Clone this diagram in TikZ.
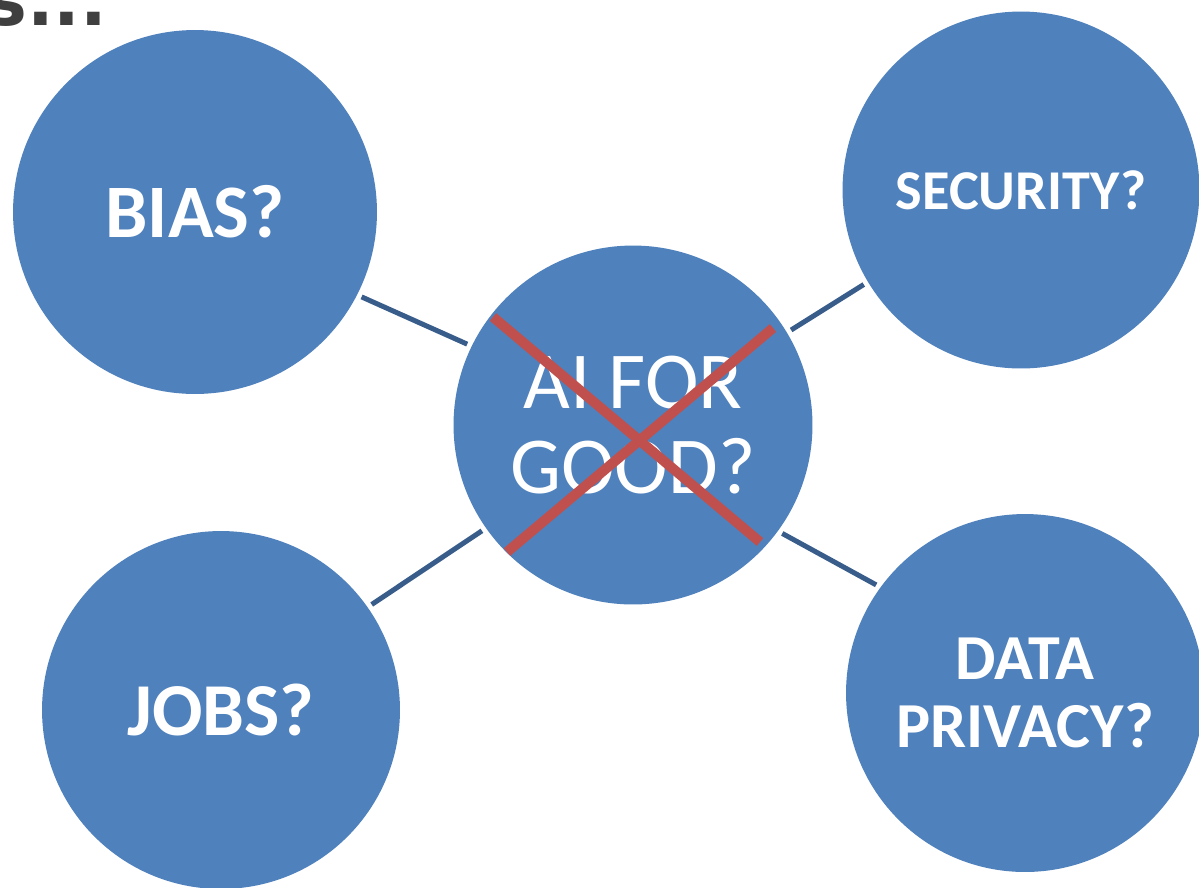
\documentclass[tikz,border=0pt]{standalone}
\usepackage{fontspec}
\setmainfont{Carlito}
\newfontfamily\titlefont{DejaVu Sans}
\definecolor{bubblefill}{HTML}{4F81BD}
\definecolor{spokeblue}{HTML}{385D8A}
\definecolor{crossred}{HTML}{C0504D}
\definecolor{titlegray}{HTML}{3F3F3F}
\tikzset{
    bubble/.style={circle, fill=bubblefill, text=white, inner sep=0pt,
        outer sep=0.1cm, align=center, minimum size=#1},
    spoke/.style={draw=spokeblue, line width=0.1cm},
    crossline/.style={draw=crossred, line width=0.2cm},
}
\newcommand\BubbleFont[2]{\fontsize{#1}{#2}\selectfont}

\begin{document}
\begin{tikzpicture}[x=0.02cm,y=-0.02cm]
    \useasboundingbox[fill=white] (0,0) rectangle (1199,887);
    % cut-off title
    \node[anchor=base west, inner sep=0pt, text=titlegray,
        font=\titlefont\bfseries\BubbleFont{40}{48}] (title) at (-15,25) {s...};
    % bubbles
    \node[bubble=7.28cm, font=\bfseries\BubbleFont{43}{48}] (bias) at (195,212) {BIAS?};
    \node[bubble=7.14cm, font=\bfseries\BubbleFont{32}{36}] (security) at (1021,190) {SECURITY?};
    \node[bubble=7.18cm, font=\BubbleFont{46}{48}] (ai) at (633,425) {AI FOR\\GOOD?};
    \node[bubble=7.16cm, font=\bfseries\BubbleFont{42.5}{48}] (jobs) at (221,710) {JOBS?};
    \node[bubble=7.16cm, font=\bfseries\BubbleFont{36.5}{38.5}] (privacy) at (1025,693) {DATA\\PRIVACY?};
    % spokes
    \draw[spoke] (bias.-27) -- (ai.154);
    \draw[spoke] (ai.31) -- (security.211);
    \draw[spoke] (jobs.35) -- (ai.215);
    \draw[spoke] (ai.-36) -- (privacy.144);
    % crossed out
    \coordinate (crossA) at (493,317);
    \coordinate (crossB) at (760,542);
    \coordinate (crossC) at (507,552);
    \coordinate (crossD) at (773,328);
    \draw[crossline] (crossA) -- (crossB);
    \draw[crossline] (crossC) -- (crossD);
\end{tikzpicture}
\end{document}
